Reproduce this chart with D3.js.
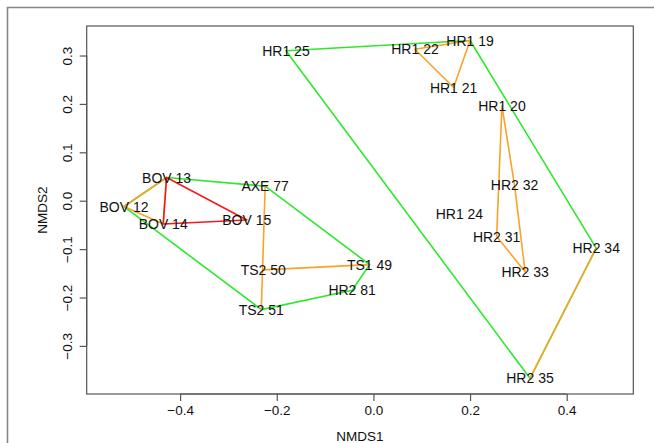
<!DOCTYPE html>
<html>
<head>
<meta charset="utf-8">
<script src="https://cdn.jsdelivr.net/npm/d3@7"></script>
<style>
  body { margin: 0; background: #fff; }
  text { font-family: "Liberation Sans", Arial, sans-serif; fill: #111; }
</style>
</head>
<body>
<div id="chart"></div>
<script>
// Sample names and NMDS scores
const labels = ["BOV 12", "BOV 13", "BOV 14", "BOV 15", "AXE 77", "TS2 50", "TS2 51", "TS1 49", "HR2 81",
  "HR1 19", "HR1 20", "HR1 21", "HR1 22", "HR1 24", "HR1 25", "HR2 31", "HR2 32", "HR2 33", "HR2 34", "HR2 35"];
const nmds1 = [-0.516, -0.428, -0.435, -0.262, -0.224, -0.228, -0.232, -0.008, -0.044,
  0.200, 0.266, 0.166, 0.086, 0.178, -0.181, 0.255, 0.292, 0.314, 0.461, 0.324];
const nmds2 = [-0.012, 0.048, -0.048, -0.040, 0.030, -0.143, -0.225, -0.132, -0.185,
  0.331, 0.196, 0.234, 0.313, -0.028, 0.310, -0.074, 0.032, -0.147, -0.098, -0.367];

// hull groupings (null = not in a hull)
const greenGroup = ["A", "A", "A", "A", "A", "A", "A", "A", "A", "B", "B", "B", "B", "B", "B", "B", "B", "B", "B", "B"];
const orangeGroup = ["a", "a", "a", null, "b", "c", "b", "c", null, "d", "e", "d", "d", null, null, "e", "e", "e", "f", "f"];
const redGroup = [null, "r", "r", "r", null, null, null, null, null, null, null, null, null, null, null, null, null, null, null, null];

const xTicks = [-0.4, -0.2, 0.0, 0.2, 0.4];
const yTicks = [-0.3, -0.2, -0.1, 0.0, 0.1, 0.2, 0.3];

const W = 654, H = 443;
const margin = { top: 26, right: 20.7, bottom: 49, left: 86.7 };
const width = W - margin.left - margin.right;
const height = H - margin.top - margin.bottom;

const svg = d3.select("#chart").append("svg")
  .attr("width", W)
  .attr("height", H);

// outer frame (top and left only)
svg.append("path")
  .attr("d", `M7.5,${H} V7.5 H${W}`)
  .attr("fill", "none")
  .attr("stroke", "#858585")
  .attr("stroke-width", 1.6);

const g = svg.append("g")
  .attr("transform", `translate(${margin.left},${margin.top})`);

const x = d3.scaleLinear().domain([-0.5933, 0.5378]).range([0, width]);
const y = d3.scaleLinear().domain([-0.3994, 0.361]).range([height, 0]);

const pts = labels.map((l, i) => ({ label: l, x: nmds1[i], y: nmds2[i] }));

// hulls
function drawHulls(groups, color) {
  const byGroup = d3.group(pts.filter((d, i) => groups[i] !== null), d => groups[pts.indexOf(d)]);
  byGroup.forEach(members => {
    const coords = members.map(d => [x(d.x), y(d.y)]);
    let poly = coords.length >= 3 ? d3.polygonHull(coords) : coords;
    if (!poly || poly.length < 2) return;
    g.append("path")
      .attr("d", "M" + poly.join("L") + "Z")
      .attr("fill", "none")
      .attr("stroke", color)
      .attr("stroke-width", 1.6)
      .attr("stroke-linejoin", "round");
  });
}
drawHulls(greenGroup, "#2ee82e");
drawHulls(orangeGroup, "#fba22a");
drawHulls(redGroup, "#f21c1c");

// sample labels
g.selectAll(".lab")
  .data(pts)
  .enter().append("text")
  .attr("class", "lab")
  .attr("x", d => x(d.x))
  .attr("y", d => y(d.y))
  .attr("dy", "0.36em")
  .attr("text-anchor", "middle")
  .style("font-size", "14px")
  .text(d => d.label);

// box
g.append("rect")
  .attr("width", width)
  .attr("height", height)
  .attr("fill", "none")
  .attr("stroke", "#555")
  .attr("stroke-width", 1.2);

// axes
const xAxis = d3.axisBottom(x).tickValues(xTicks).tickFormat(d3.format(".1f")).tickSize(7).tickPadding(4);
const yAxis = d3.axisLeft(y).tickValues(yTicks).tickFormat(d3.format(".1f")).tickSize(7).tickPadding(4);

const gx = g.append("g")
  .attr("transform", `translate(0,${height})`)
  .call(xAxis);
gx.select(".domain").attr("d", `M${x(-0.4)},0H${x(0.4)}`);
gx.selectAll("line, .domain").attr("stroke", "#555").attr("stroke-width", 1.2);
gx.selectAll("text").style("font-size", "13.5px").attr("fill", "#111");

const gy = g.append("g").call(yAxis);
gy.select(".domain").attr("d", `M0,${y(-0.3)}V${y(0.3)}`);
gy.selectAll("line, .domain").attr("stroke", "#555").attr("stroke-width", 1.2);
gy.selectAll("text")
  .style("font-size", "13.5px")
  .attr("fill", "#111")
  .attr("x", null).attr("dy", null)
  .attr("text-anchor", "middle")
  .attr("transform", "translate(-15,0) rotate(-90)");

// axis titles
g.append("text")
  .attr("x", width / 2)
  .attr("y", height + 46.5)
  .attr("text-anchor", "middle")
  .style("font-size", "13.5px")
  .text("NMDS1");

g.append("text")
  .attr("transform", `translate(${42 - margin.left},${height / 2}) rotate(-90)`)
  .attr("dy", "0.36em")
  .attr("text-anchor", "middle")
  .style("font-size", "13.5px")
  .text("NMDS2");
</script>
</body>
</html>
